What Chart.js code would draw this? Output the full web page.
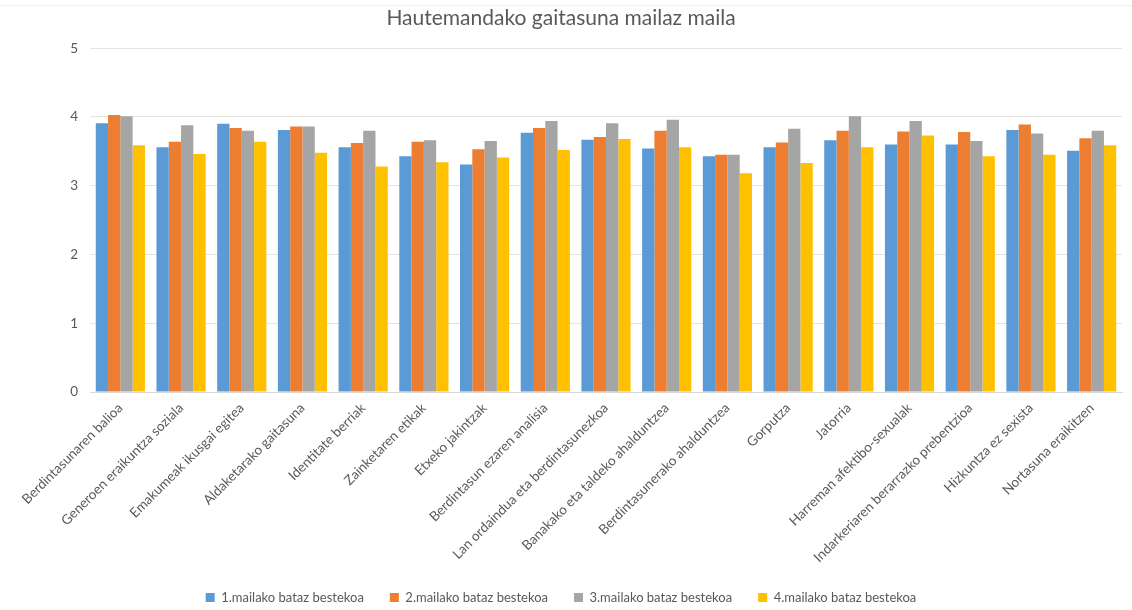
<!DOCTYPE html>
<html>
<head>
<meta charset="utf-8">
<script src="https://cdn.jsdelivr.net/npm/chart.js@4/dist/chart.umd.min.js"></script>
<style>
  html, body { margin: 0; padding: 0; background: #fff; }
  #wrap { position: relative; width: 1132px; height: 610px; }
  #frame { position: absolute; left: 0; top: 5px; width: 1132px; height: 0; border-top: 1px solid #F0F0F0; }
</style>
</head>
<body>
<div id="wrap"><div id="frame"></div><canvas id="c" width="1132" height="610"></canvas></div>
<script>
const categories = [
  'Berdintasunaren balioa',
  'Generoen eraikuntza soziala',
  'Emakumeak ikusgai egitea',
  'Aldaketarako gaitasuna',
  'Identitate berriak',
  'Zainketaren etikak',
  'Etxeko jakintzak',
  'Berdintasun ezaren analisia',
  'Lan ordaindua eta berdintasunezkoa',
  'Banakako eta taldeko ahalduntzea',
  'Berdintasunerako ahalduntzea',
  'Gorputza',
  'Jatorria',
  'Harreman afektibo-sexualak',
  'Indarkeriaren berarrazko prebentzioa',
  'Hizkuntza ez sexista',
  'Nortasuna eraikitzen'
];

const seriesNames = [
  '1.mailako bataz bestekoa',
  '2.mailako bataz bestekoa',
  '3.mailako bataz bestekoa',
  '4.mailako bataz bestekoa'
];

const maila1 = [3.91, 3.56, 3.90, 3.81, 3.56, 3.43, 3.31, 3.77, 3.67, 3.54, 3.43, 3.56, 3.66, 3.60, 3.60, 3.81, 3.51];
const maila2 = [4.03, 3.64, 3.84, 3.86, 3.62, 3.64, 3.53, 3.84, 3.71, 3.80, 3.45, 3.63, 3.80, 3.79, 3.78, 3.89, 3.69];
const maila3 = [4.01, 3.88, 3.80, 3.86, 3.80, 3.66, 3.65, 3.94, 3.91, 3.96, 3.45, 3.83, 4.01, 3.94, 3.65, 3.76, 3.80];
const maila4 = [3.59, 3.46, 3.64, 3.48, 3.28, 3.34, 3.41, 3.52, 3.68, 3.56, 3.18, 3.33, 3.56, 3.73, 3.43, 3.45, 3.59];

const yTicks = [0, 1, 2, 3, 4, 5];

const colors = ['#5B9BD5', '#ED7D31', '#A5A5A5', '#FFC000'];
const seriesData = [maila1, maila2, maila3, maila4];

const FONT = 'Lato, "Open Sans", sans-serif';
const TEXT = '#595959';

new Chart(document.getElementById('c'), {
  type: 'bar',
  data: {
    labels: categories,
    datasets: seriesData.map((d, i) => ({
      label: seriesNames[i],
      data: d,
      backgroundColor: colors[i],
      borderWidth: 0,
      categoryPercentage: 0.81,
      barPercentage: 1.0
    }))
  },
  options: {
    responsive: false,
    animation: false,
    layout: { padding: { left: 0, right: 10, top: 4, bottom: -4 } },
    plugins: {
      title: {
        display: true,
        text: 'Hautemandako gaitasuna mailaz maila',
        color: TEXT,
        font: { family: FONT, size: 21, weight: 'normal' },
        padding: { top: 2, bottom: 17 }
      },
      legend: {
        position: 'bottom',
        labels: {
          color: TEXT,
          font: { family: FONT, size: 13 },
          boxWidth: 9,
          boxHeight: 9,
          padding: 26
        }
      },
      tooltip: { enabled: false }
    },
    scales: {
      x: {
        grid: { display: false, drawTicks: false },
        border: { display: true, color: '#D9D9D9' },
        ticks: {
          color: TEXT,
          font: { family: FONT, size: 13.5 },
          minRotation: 45,
          maxRotation: 45,
          autoSkip: false,
          padding: 8
        },
        afterFit: (axis) => { axis.height = 173; }
      },
      y: {
        min: 0,
        max: 5,
        afterBuildTicks: (axis) => { axis.ticks = yTicks.map(v => ({ value: v })); },
        grid: { color: '#E3E3E3', drawTicks: false },
        border: { display: false },
        ticks: {
          color: TEXT,
          font: { family: FONT, size: 13.5 },
          padding: 12
        },
        afterFit: (axis) => { axis.width = 90; }
      }
    }
  }
});
</script>
</body>
</html>
